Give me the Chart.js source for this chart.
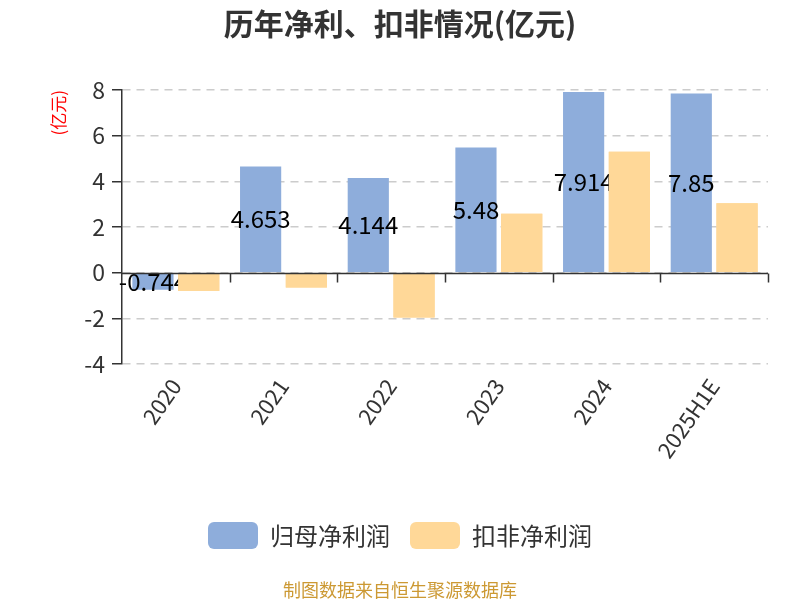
<!DOCTYPE html>
<html>
<head>
<meta charset="utf-8">
<script src="https://cdn.jsdelivr.net/npm/chart.js@4.4.1/dist/chart.umd.min.js"></script>
<style>
  html, body { margin: 0; padding: 0; background: #fff; }
  #wrap { width: 800px; height: 600px; }
</style>
</head>
<body>
<div id="wrap"><canvas id="chart" width="800" height="600"></canvas></div>
<script>
// 历年净利、扣非情况 (亿元)
const years = ["2020", "2021", "2022", "2023", "2024", "2025H1E"];
const netProfit = [-0.744, 4.653, 4.144, 5.48, 7.914, 7.85];
const deductedProfit = [-0.8, -0.65, -1.96, 2.58, 5.3, 3.04];
const yTicks = [-4, -2, 0, 2, 4, 6, 8];

const FONT = "'Noto Sans CJK SC', 'Noto Sans', sans-serif";
const BLUE = "#8EADDB";
const ORANGE = "#FFD898";
const AXIS = "#333333";

// zero axis line, category ticks, value labels for the first series
const overlayPlugin = {
  id: "overlay",
  afterLayout(chart) {
    // title and legend boxes stop at the right padding; re-centre them on the canvas
    [chart.titleBlock, chart.legend].forEach((box) => {
      if (box) {
        box.left += 16;
        box.right += 16;
      }
    });
  },
  afterDatasetsDraw(chart) {
    const { ctx, chartArea } = chart;
    const x = chart.scales.x;
    const y = chart.scales.y;

    ctx.save();
    ctx.font = `24px ${FONT}`;
    ctx.fillStyle = "#000";
    ctx.textAlign = "center";
    ctx.textBaseline = "middle";
    chart.getDatasetMeta(0).data.forEach((bar, i) => {
      ctx.fillText(String(netProfit[i]), bar.x, (bar.y + bar.base) / 2);
    });
    ctx.restore();

    // orange bars sit above the labels in the original
    ctx.save();
    ctx.beginPath();
    ctx.rect(chartArea.left, chartArea.top, chartArea.right - chartArea.left, chartArea.bottom - chartArea.top);
    ctx.clip();
    chart.getDatasetMeta(1).data.forEach((bar) => bar.draw(ctx));
    ctx.restore();

    const y0 = Math.round(y.getPixelForValue(0)) + 0.5;
    const half = (x.getPixelForValue(1) - x.getPixelForValue(0)) / 2;
    ctx.save();
    ctx.strokeStyle = AXIS;
    ctx.lineWidth = 1.5;
    ctx.beginPath();
    ctx.moveTo(chartArea.left, y0);
    ctx.lineTo(chartArea.right, y0);
    years.forEach((_, i) => {
      const px = Math.round(x.getPixelForValue(i) + half) + 0.5;
      ctx.moveTo(px, y0);
      ctx.lineTo(px, y0 + 9);
    });
    ctx.stroke();
    ctx.restore();
  },
  afterDraw(chart) {
    const { ctx } = chart;
    ctx.save();
    ctx.font = `18px ${FONT}`;
    ctx.fillStyle = "#CC9933";
    ctx.textAlign = "center";
    ctx.textBaseline = "middle";
    ctx.fillText("制图数据来自恒生聚源数据库", 400, 590);
    ctx.restore();
  },
};

new Chart(document.getElementById("chart"), {
  type: "bar",
  data: {
    labels: years,
    datasets: [
      {
        label: "归母净利润",
        data: netProfit,
        backgroundColor: BLUE,
        borderWidth: 0,
        categoryPercentage: 0.85,
        barPercentage: 0.9,
      },
      {
        label: "扣非净利润",
        data: deductedProfit,
        backgroundColor: ORANGE,
        borderWidth: 0,
        categoryPercentage: 0.85,
        barPercentage: 0.9,
      },
    ],
  },
  options: {
    responsive: false,
    animation: false,
    devicePixelRatio: 1,
    layout: { padding: { top: 0, left: 0, right: 32, bottom: 41 } },
    plugins: {
      title: {
        display: true,
        text: "历年净利、扣非情况(亿元)",
        color: AXIS,
        font: { family: FONT, size: 30, weight: "bold", lineHeight: 1.2 },
        padding: { top: 6, bottom: 48 },
      },
      legend: {
        position: "bottom",
        labels: {
          color: AXIS,
          font: { family: FONT, size: 24 },
          boxWidth: 50,
          boxHeight: 27,
          useBorderRadius: true,
          borderRadius: 6,
          padding: 20,
        },
      },
      tooltip: { enabled: false },
    },
    scales: {
      x: {
        grid: { display: false, drawTicks: false },
        border: { display: false },
        ticks: {
          color: AXIS,
          font: { family: FONT, size: 22 },
          minRotation: 55,
          maxRotation: 55,
          autoSkip: false,
          padding: 10,
        },
        afterFit(scale) {
          scale.height = 138;
        },
      },
      y: {
        min: -4,
        max: 8,
        afterBuildTicks(scale) {
          scale.ticks = yTicks.map((v) => ({ value: v }));
        },
        grid: {
          color: "#CCCCCC",
          lineWidth: 1.5,
          tickColor: AXIS,
          tickLength: 10,
          tickBorderDash: [],
        },
        border: { display: true, color: AXIS, width: 1.5, dash: [8, 6] },
        ticks: {
          color: AXIS,
          font: { family: FONT, size: 23 },
          padding: 7,
        },
        title: {
          display: true,
          text: "(亿元)",
          color: "#FF0000",
          align: "end",
          font: { family: FONT, size: 17, lineHeight: 1.2 },
          padding: { top: 48, bottom: 0 },
        },
        afterFit(scale) {
          scale.width = 122;
        },
      },
    },
  },
  plugins: [overlayPlugin],
});
</script>
</body>
</html>
